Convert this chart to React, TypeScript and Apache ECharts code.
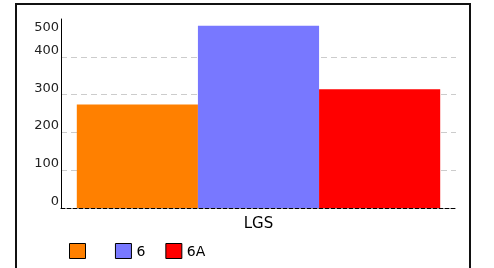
import React, { useEffect, useRef } from "react";
import * as echarts from "echarts";

const categories = ["LGS"];
const seriesNames = [" ", "6", "6A"];
const seriesValues = [[274], [482], [314]];
const seriesColors = ["#FF8000", "#7878FF", "#FF0000"];
const yTicks = [0, 100, 200, 300, 400, 500];

export default function App() {
  const ref = useRef<HTMLDivElement>(null);
  useEffect(() => {
    if (!ref.current) return;
    const chart = echarts.init(ref.current, null, { renderer: "svg" });
    const font = "DejaVu Sans";
    chart.setOption({
      animation: false,
      textStyle: { fontFamily: font },
      grid: { left: 61, right: 38, top: 19, bottom: 60, containLabel: false },
      graphic: [
        {
          type: "rect",
          shape: { x: 16, y: 4, width: 454, height: 290 },
          style: { fill: "none", stroke: "#111", lineWidth: 2 },
          z: -1,
        },
      ],
      legend: {
        left: 69,
        top: 243,
        padding: 0,
        itemWidth: 16,
        itemHeight: 15,
        itemGap: 20,
        icon: "rect",
        itemStyle: { borderColor: "#000", borderWidth: 1 },
        textStyle: { fontSize: 14, color: "#000", fontFamily: font },
        data: seriesNames,
      },
      xAxis: {
        type: "category",
        data: categories,
        axisLine: { show: true, lineStyle: { color: "#000", type: "dashed", width: 1 } },
        axisTick: { show: false },
        axisLabel: { fontSize: 15, color: "#000", margin: 7, fontFamily: font },
        splitLine: { show: false },
      },
      yAxis: {
        type: "value",
        min: 0,
        max: yTicks[yTicks.length - 1],
        interval: 100,
        axisLine: { show: true, lineStyle: { color: "#000", width: 1 } },
        axisTick: { show: false },
        axisLabel: {
          fontSize: 13,
          color: "#222",
          margin: 2,
          lineHeight: 15,
          verticalAlign: "middle",
          fontFamily: font,
          formatter: (v: number) => (v === 500 ? "\n" + v : v + "\n"),
        },
        splitLine: {
          show: true,
          lineStyle: {
            color: ["transparent", "#cccccc", "#cccccc", "#cccccc", "#cccccc", "transparent"],
            type: [6, 4],
            width: 1,
          },
        },
      },
      series: seriesNames.map((name, i) => ({
        name,
        type: "bar",
        data: seriesValues[i],
        barGap: "0%",
        barCategoryGap: "8%",
        itemStyle: { color: seriesColors[i] },
      })),
    });
    return () => chart.dispose();
  }, []);
  return (
    <div
      ref={ref}
      style={{ position: "fixed", left: 0, top: 0, width: 494, height: 268 }}
    />
  );
}
